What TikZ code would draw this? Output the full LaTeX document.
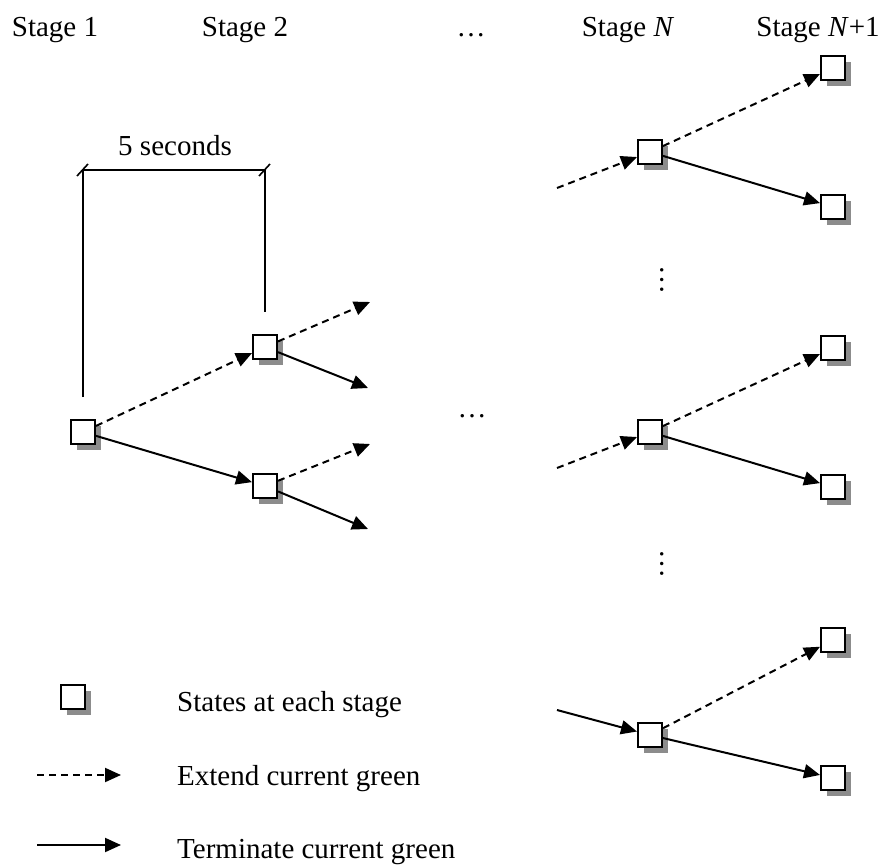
\documentclass[tikz,border=0pt]{standalone}
\usepackage{fontspec}
\setmainfont{Liberation Serif}
\usetikzlibrary{arrows.meta,shadows,calc}

\begin{document}
\begin{tikzpicture}[x=1pt, y=-1pt,
    state/.style={rectangle, draw, line width=2pt, fill=white, minimum size=24pt, inner sep=0pt,
        drop shadow={shadow xshift=6pt, shadow yshift=-6pt, fill=gray!90, opacity=1}},
    ext/.style={line width=2pt, dash pattern=on 7pt off 5pt, -{Triangle[length=16pt,width=14pt]}},
    term/.style={line width=2pt, -{Triangle[length=16pt,width=14pt]}},
    lbl/.style={font=\fontsize{29}{34}\selectfont, inner sep=0pt},
]
    \useasboundingbox (0,0) rectangle (881,867);

    % stage headings
    \node[lbl, anchor=base] (h1) at (55,37) {Stage 1};
    \node[lbl, anchor=base] (h2) at (245,37) {Stage 2};
    \node[lbl, anchor=base] (hdots) at (471,37) {\ldots};
    \node[lbl, anchor=base] (hn) at (628,37) {Stage \textit{N}};
    \node[lbl, anchor=base] (hn1) at (818,37) {Stage \textit{N}+1};

    % states
    \node[state] (s1) at (83,432) {};
    \node[state] (s2a) at (265,347) {};
    \node[state] (s2b) at (265,486) {};

    \node[state] (na) at (650,152) {};
    \node[state] (na1) at (833,68) {};
    \node[state] (na2) at (833,207) {};
    \node[state] (nb) at (650,432) {};
    \node[state] (nb1) at (833,348) {};
    \node[state] (nb2) at (833,487) {};
    \node[state] (nc) at (650,735) {};
    \node[state] (nc1) at (833,640) {};
    \node[state] (nc2) at (833,778) {};

    % loose ends
    \coordinate (e1) at (370,302);
    \coordinate (e2) at (368,388);
    \coordinate (e3) at (370,444);
    \coordinate (e4) at (368,529);
    \coordinate (ia) at (557,188);
    \coordinate (ib) at (557,468);
    \coordinate (ic) at (557,710);

    \draw[ext] (s1) -- (s2a);
    \draw[term] (s1) -- (s2b);
    \draw[ext] (s2a) -- (e1);
    \draw[term] (s2a) -- (e2);
    \draw[ext] (s2b) -- (e3);
    \draw[term] (s2b) -- (e4);

    \draw[ext] (ia) -- (na);
    \draw[ext] (na) -- (na1);
    \draw[term] (na) -- (na2);
    \draw[ext] (ib) -- (nb);
    \draw[ext] (nb) -- (nb1);
    \draw[term] (nb) -- (nb2);
    \draw[term] (ic) -- (nc);
    \draw[ext] (nc) -- (nc1);
    \draw[term] (nc) -- (nc2);

    \node[lbl, anchor=base] (mdots) at (472,417) {\ldots};
    \node[lbl, rotate=90] (vd1) at (662,280) {\ldots};
    \node[lbl, rotate=90] (vd2) at (662,564) {\ldots};

    % 5 second interval
    \coordinate (d1) at (83,170);
    \coordinate (d2) at (265,170);
    \draw[line width=2pt] (83,397) -- (d1) -- (d2) -- (265,312);
    \draw[line width=1.6pt] ($(d1)+(-6,6)$) -- ($(d1)+(5,-6)$);
    \draw[line width=1.6pt] ($(d2)+(-6,6)$) -- ($(d2)+(5,-6)$);
    \node[lbl, anchor=base] (dt) at (175,155) {5 seconds};

    % legend
    \node[state] (ls) at (73,697) {};
    \node[lbl, anchor=base west] (lt1) at (177,711) {States at each stage};
    \coordinate (la1) at (37,775);
    \coordinate (la2) at (121,775);
    \draw[ext] (la1) -- (la2);
    \node[lbl, anchor=base west] (lt2) at (177,785) {Extend current green};
    \coordinate (lb1) at (37,845);
    \coordinate (lb2) at (121,845);
    \draw[term] (lb1) -- (lb2);
    \node[lbl, anchor=base west] (lt3) at (177,858) {Terminate current green};
\end{tikzpicture}
\end{document}
